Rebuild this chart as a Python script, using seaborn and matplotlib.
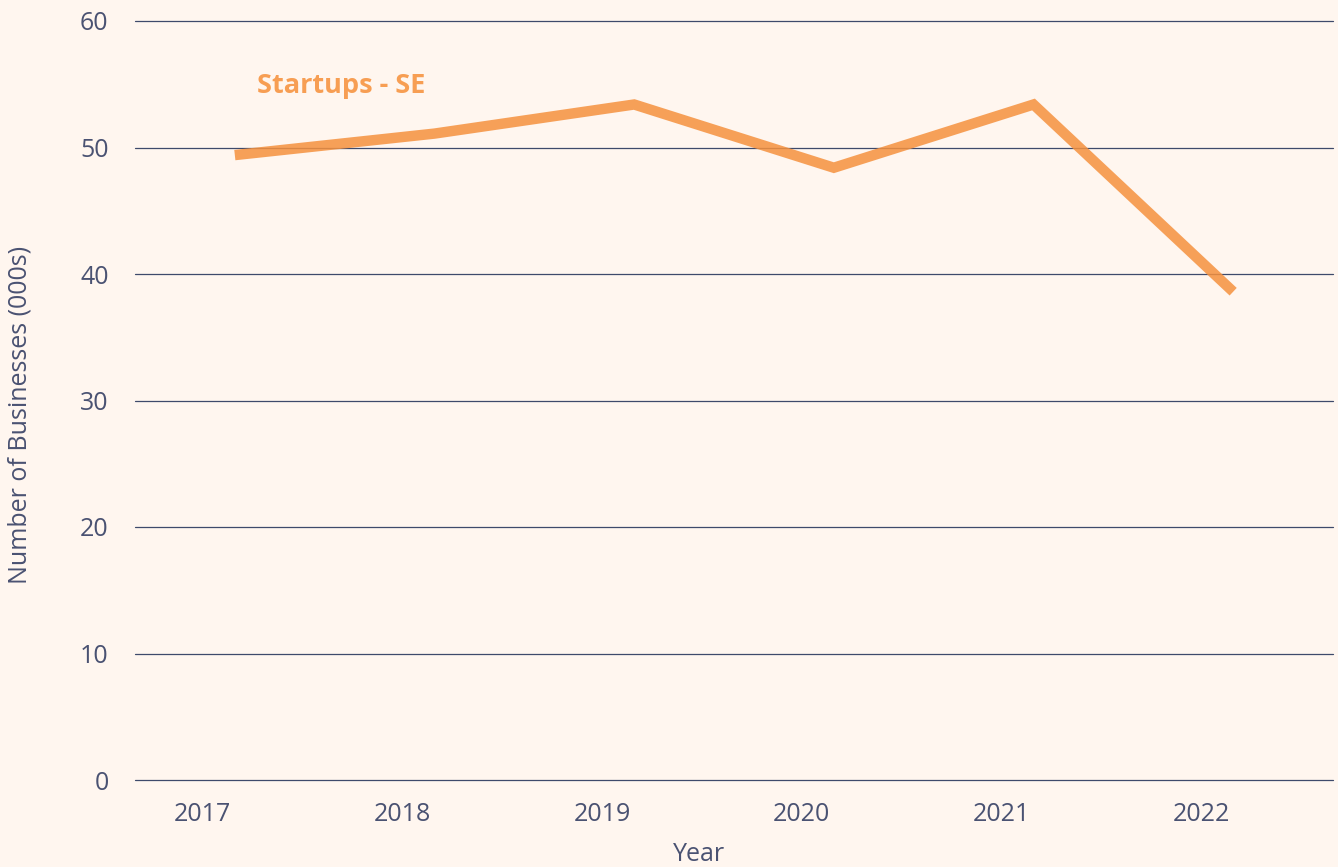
import matplotlib
matplotlib.use("Agg")
import matplotlib.pyplot as plt
import matplotlib.transforms as mtransforms
import seaborn as sns
import pandas as pd

years = ["2017", "2018", "2019", "2020", "2021", "2022"]
startups_se = [49.4, 51.1, 53.4, 48.4, 53.4, 38.6]
y_ticks = [0, 10, 20, 30, 40, 50, 60]
series_label = "Startups - SE"

bg = "#FFF6EF"
text_col = "#4A5272"
grid_col = "#3E4A6B"
line_col = "#F5913E"

sns.set_theme(style="white")
plt.rcParams["font.family"] = ["Open Sans", "DejaVu Sans"]

fig = plt.figure(figsize=(13.38, 8.67), dpi=100, facecolor=bg)
ax = fig.add_axes([135/1338, 1 - 780/867, (1333-135)/1338, (780-21)/867])
ax.set_facecolor(bg)

df = pd.DataFrame({"x": range(len(years)), "y": startups_se})
sns.lineplot(data=df, x="x", y="y", ax=ax, color=line_col, linewidth=7.5,
             alpha=0.85, solid_capstyle="butt", solid_joinstyle="miter")

ax.set_xlim(-0.5, len(years) - 0.5)
ax.set_ylim(0, 60)
ax.set_yticks(y_ticks)
ax.set_yticklabels([str(v) for v in y_ticks])
ax.set_xticks(range(len(years)))
ax.set_xticklabels(years)
ax.grid(axis="y", color=grid_col, linewidth=0.9)
ax.grid(axis="x", visible=False)
ax.set_axisbelow(True)
for gl in ax.yaxis.get_gridlines():
    gl.set_clip_on(False)
for s in ax.spines.values():
    s.set_visible(False)
ax.tick_params(axis="both", length=0, labelsize=18, labelcolor=text_col)
ax.tick_params(axis="y", pad=19)
ax.tick_params(axis="x", pad=16)

offset = mtransforms.ScaledTranslation(-0.32, 0, fig.dpi_scale_trans)
for lbl in ax.get_xticklabels():
    lbl.set_transform(lbl.get_transform() + offset)

ax.set_xlabel("Year", fontsize=18, color=text_col)
ax.set_ylabel("Number of Businesses (000s)", fontsize=18, color=text_col)
ax.xaxis.set_label_coords((699-135)/1198, -(842-780)/759)
ax.yaxis.set_label_coords(-(135-33)/1198, (780-415)/759)

ax.text(0.11, 54.9, series_label, fontsize=19.5, fontweight="bold",
        color="#F79E53", ha="left", va="center")

fig.savefig("out.png", dpi=100, facecolor=bg)
